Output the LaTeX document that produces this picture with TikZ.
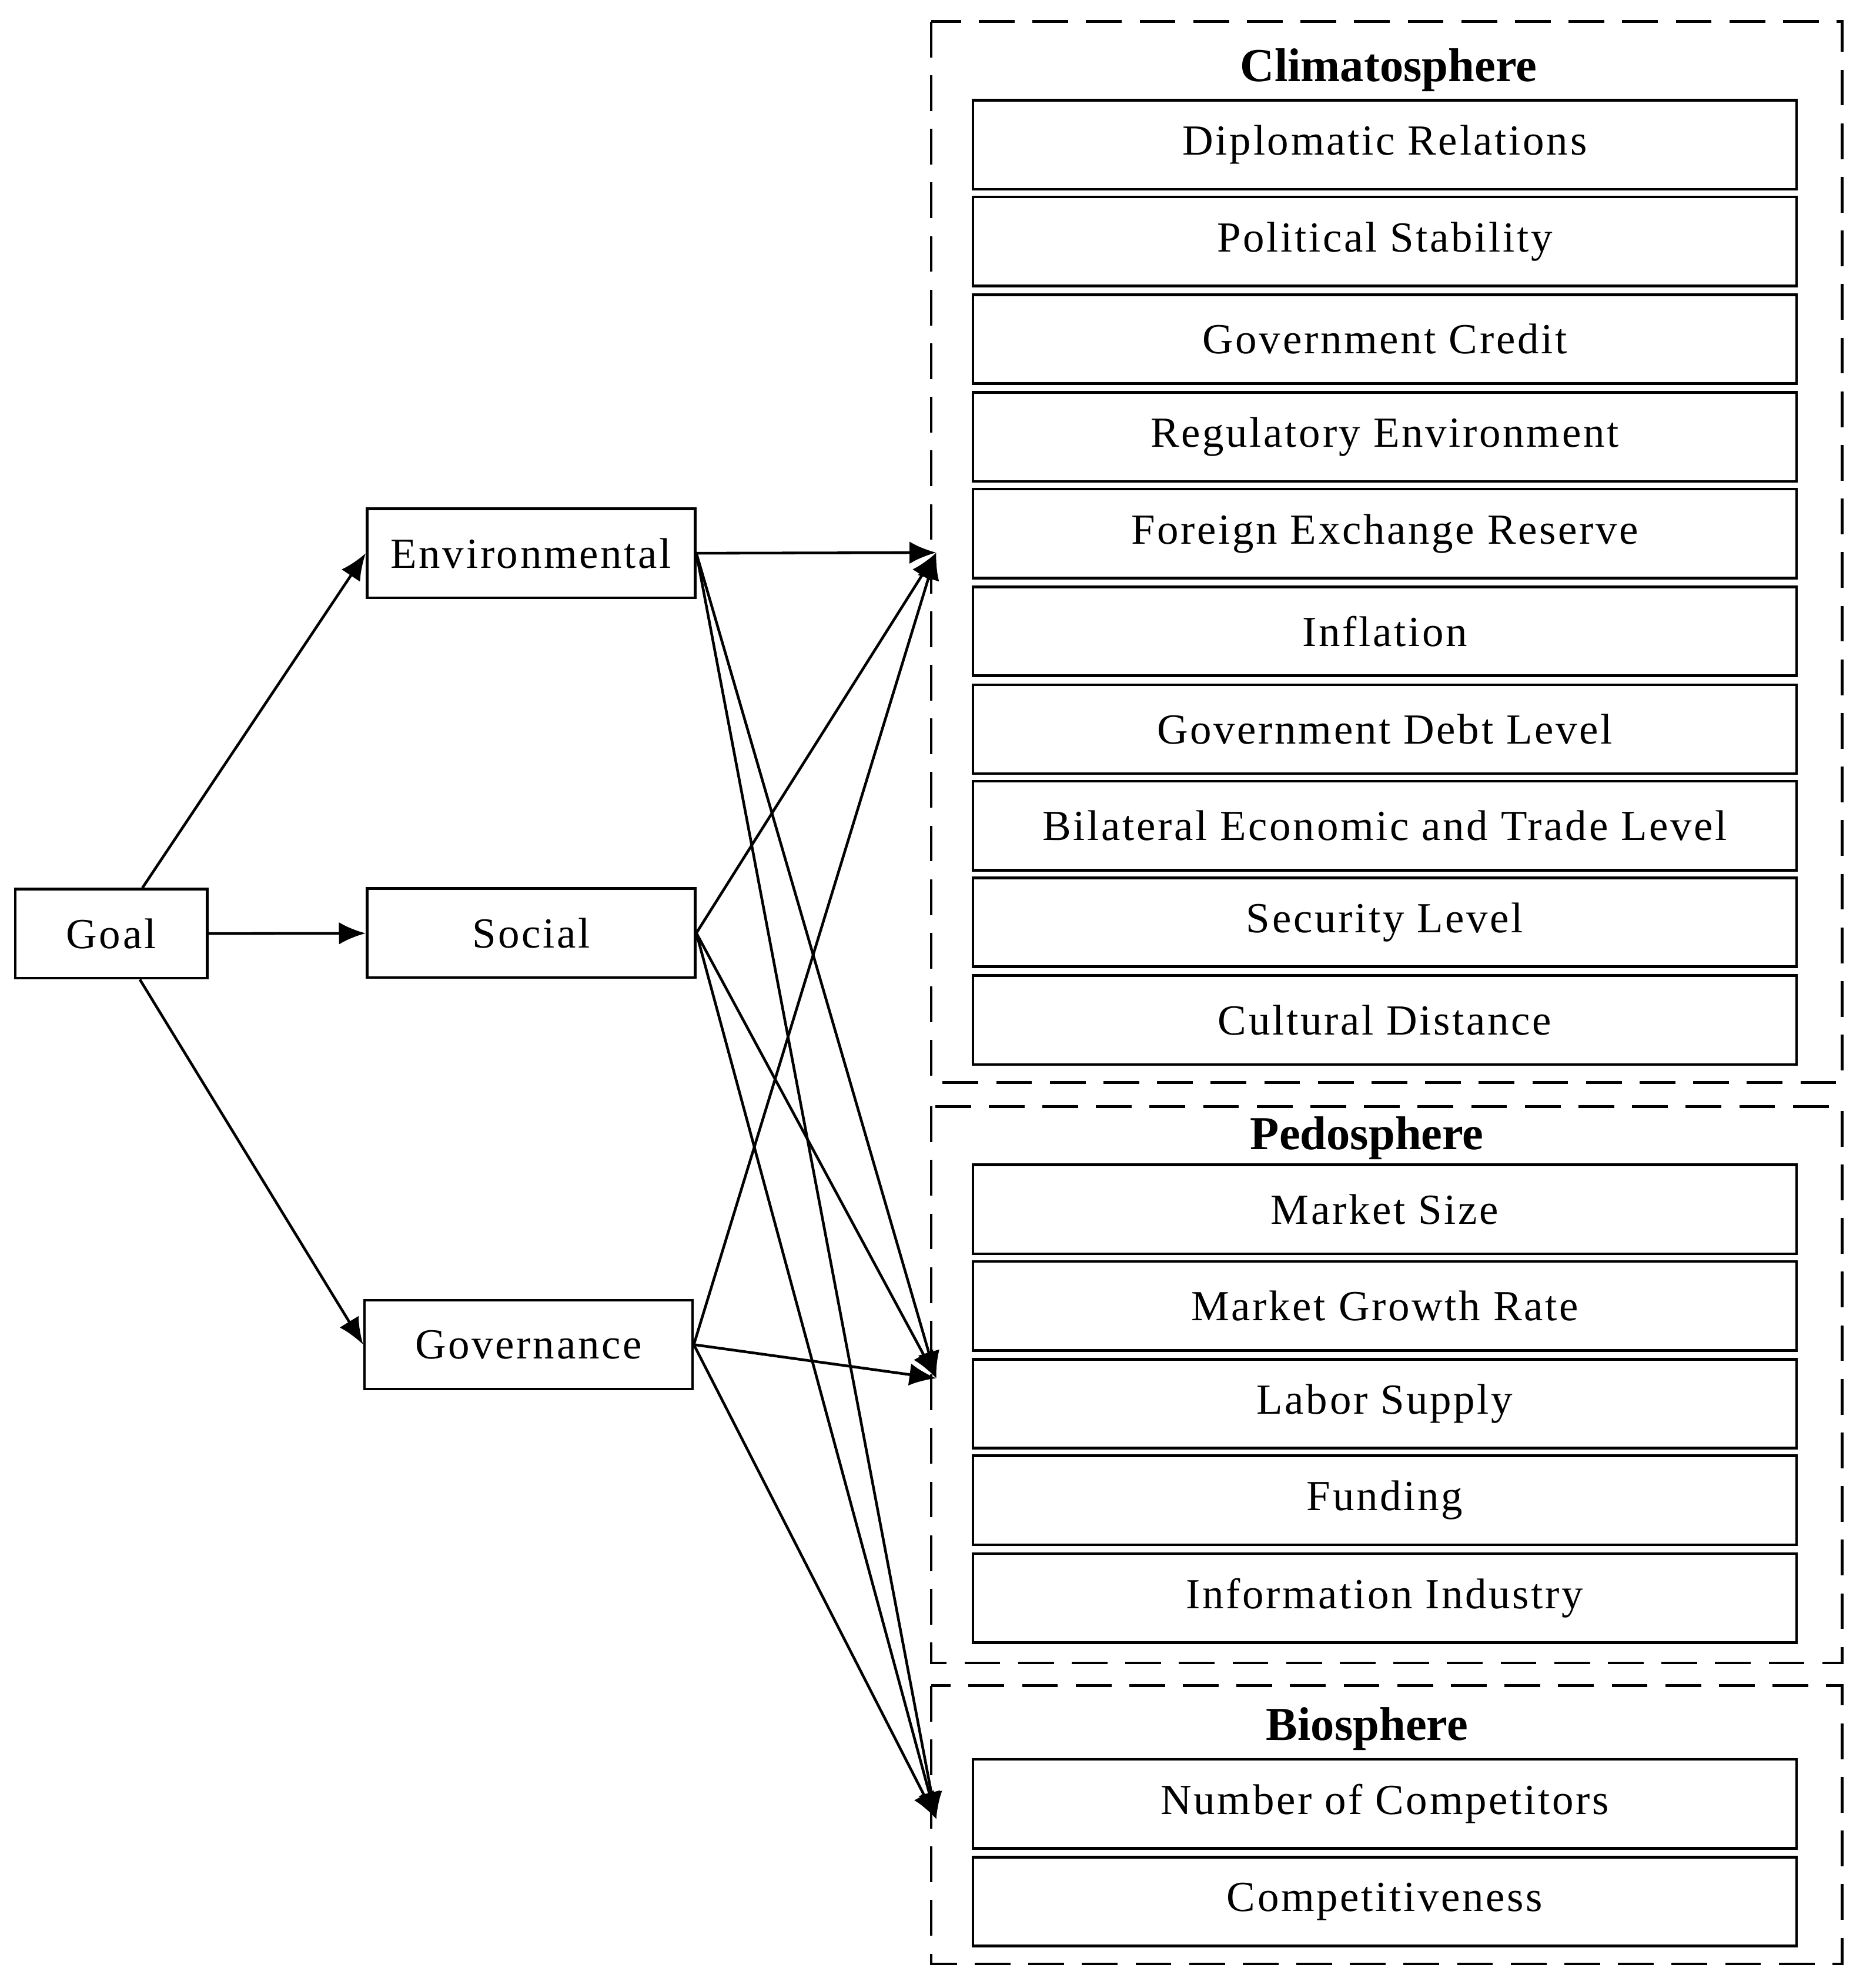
\documentclass[tikz,border=0pt]{standalone}
\usepackage{fontspec}
\setmainfont{Liberation Serif}
\newfontfamily\spaced[LetterSpace=5]{Liberation Serif}
\usetikzlibrary{arrows.meta}
\begin{document}
\begin{tikzpicture}[x=0.01cm,y=-0.01cm,
  box/.style={draw,semithick,minimum height=0.7cm,inner sep=0pt,font=\spaced\fontsize{9.6}{12}\selectfont},
  item/.style={box,minimum width=6.48cm},
  group/.style={draw,semithick,dash pattern=on 8pt off 4pt},
  title/.style={font=\fontsize{10.6}{13}\selectfont\bfseries},
  arr/.style={-{Latex[length=6pt,width=5pt]},semithick}]
\useasboundingbox (0,0) rectangle (1466,1565);
% left hierarchy
\node[box,minimum width=1.51cm] (goal) at (87.5,735) {Goal};
\node[box,minimum width=2.58cm] (env) at (418,435.5) {Environmental};
\node[box,minimum width=2.58cm] (soc) at (418,734.5) {Social};
\node[box,minimum width=2.58cm] (gov) at (416,1058.5) {Governance};
% groups
\draw[group] (733,17) rectangle (1450,852);
\draw[group] (733,871) rectangle (1450,1309);
\draw[group] (733,1327) rectangle (1450,1546);
\node[title] (t1) at (1093,55) {Climatosphere};
\node[title] (t2) at (1076,896) {Pedosphere};
\node[title] (t3) at (1076,1361) {Biosphere};
% items
\foreach \y/\t [count=\i] in {114/Diplomatic Relations,190/Political Stability,267/Government Credit,344/Regulatory Environment,420/Foreign Exchange Reserve,497/Inflation,574/Government Debt Level,650/Bilateral Economic and Trade Level,726/Security Level,803/Cultural Distance,952/Market Size,1028/Market Growth Rate,1105/Labor Supply,1181/Funding,1258/Information Industry,1420/Number of Competitors,1497/Competitiveness}
  \node[item] (i\i) at (1090,\y) {\t};
% targets
\coordinate (c) at (737,435);
\coordinate (p) at (737,1085);
\coordinate (b) at (737,1432);
% connectors
\draw[arr] (goal.north east) ++(-52,0) coordinate (g1) -- (env.west);
\draw[arr] (goal) -- (soc);
\draw[arr] (goal.south east) ++(-54,0) coordinate (g2) -- (gov.west);
\foreach \s in {env,soc,gov}
  \foreach \t in {c,p,b}
    \draw[arr] (\s.east) -- (\t);
\end{tikzpicture}
\end{document}
